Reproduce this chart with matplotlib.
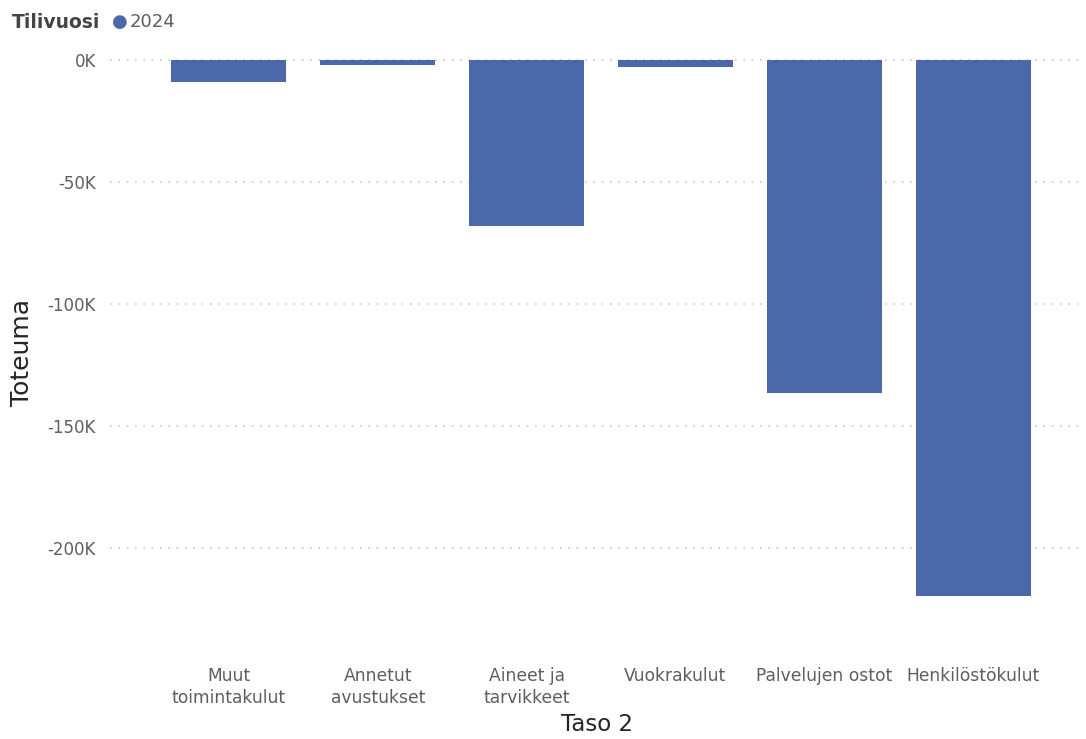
import matplotlib.pyplot as plt
from matplotlib.ticker import FuncFormatter

categories = ['Muut\ntoimintakulut', 'Annetut\navustukset', 'Aineet ja\ntarvikkeet',
              'Vuokrakulut', 'Palvelujen ostot', 'Henkilöstökulut']
toteuma_2024 = [-9000, -2200, -68000, -3000, -136500, -219800]
y_ticks = [0, -50000, -100000, -150000, -200000]

bar_color = '#4A68AA'
text_grey = '#605E5C'

fig = plt.figure(figsize=(10.86, 7.39), dpi=100)
ax = fig.add_axes([0.101, 0.114, 0.898, 0.818])

x = range(len(categories))
ax.bar(x, toteuma_2024, width=0.77, color=bar_color, zorder=3)

ax.set_xlim(-0.80, 5.75)
ax.set_ylim(-243700, 4000)
ax.set_yticks(y_ticks)
ax.yaxis.set_major_formatter(FuncFormatter(lambda v, p: f'{int(v/1000)}K'))
ax.set_xticks(list(x))
ax.set_xticklabels(categories)

ax.grid(axis='y', linestyle=(0, (1, 4)), color='#C8C8C8', linewidth=1.2, zorder=0)
for s in ax.spines.values():
    s.set_visible(False)
ax.tick_params(axis='y', length=0, labelsize=12, colors=text_grey, pad=10)
ax.tick_params(axis='x', length=0, labelsize=12.3, colors=text_grey, pad=9)
for lbl in ax.get_xticklabels():
    lbl.set_linespacing(1.3)

ax.set_ylabel('Toteuma', fontsize=18, color='#252423', labelpad=10)
ax.set_xlabel('Taso 2', fontsize=16.5, color='#252423', labelpad=4)

# legend like Power BI header
fig.text(12/1086, 1 - 22/739, 'Tilivuosi', fontsize=13.5, fontweight='bold',
         color='#444444', va='center', ha='left')
fig.text(112/1086, 1 - 22/739, '\u25CF', fontsize=13, color=bar_color, va='center', ha='left')
fig.text(130/1086, 1 - 22/739, '2024', fontsize=13, color=text_grey, va='center', ha='left')

fig.savefig('out.png', dpi=100)
